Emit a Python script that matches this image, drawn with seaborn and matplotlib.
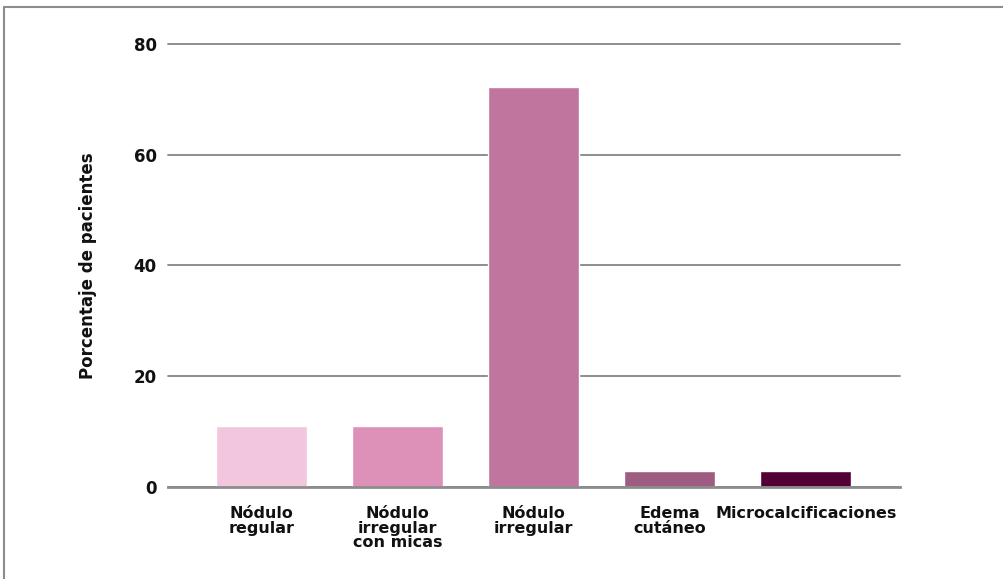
import matplotlib
matplotlib.use("Agg")
import matplotlib.pyplot as plt
import seaborn as sns
import pandas as pd
from matplotlib.lines import Line2D

categories = ["Nódulo\nregular", "Nódulo\nirregular\ncon micas", "Nódulo\nirregular",
              "Edema\ncutáneo", "Microcalcificaciones"]
values = [11.0, 11.0, 72.3, 2.9, 2.9]
colors = ["#F2C6DC", "#DE91B8", "#BF759E", "#9E5C82", "#520035"]
yticks = [0, 20, 40, 60, 80]
ylabel = "Porcentaje de pacientes"

sns.set_theme(style="white")
plt.rcParams["font.family"] = ["DejaVu Sans"]
plt.rcParams["text.color"] = "#111111"
plt.rcParams["xtick.color"] = "#111111"
plt.rcParams["ytick.color"] = "#111111"
plt.rcParams["axes.labelcolor"] = "#111111"

df = pd.DataFrame({"cat": categories, "val": values})

fig = plt.figure(figsize=(10.04, 5.79), dpi=100)
ax = fig.add_axes([0.167, 0.159, 0.729, 0.765])
sns.barplot(data=df, x="cat", y="val", hue="cat", palette=colors, legend=False,
            width=0.67, ax=ax, saturation=1)

ax.set_ylim(0, 80)
ax.set_xlim(-0.69, 4.69)
ax.set_yticks(yticks)
ax.set_yticklabels([str(t) for t in yticks], fontweight="bold", fontsize=12)
for lab in ax.get_xticklabels():
    lab.set_fontweight("bold")
    lab.set_fontsize(11.5)
    lab.set_linespacing(0.95)
ax.set_xlabel("")
ax.set_ylabel(ylabel, fontweight="bold", fontsize=12, labelpad=26)
ax.yaxis.grid(True, color="#858585", linewidth=1.3)
for gl in ax.get_ygridlines():
    gl.set_clip_on(False)
ax.set_axisbelow(True)
for s in ["top", "right", "left"]:
    ax.spines[s].set_visible(False)
ax.spines["bottom"].set_color("#8c8c8c")
ax.spines["bottom"].set_linewidth(2)
ax.tick_params(axis="both", length=0)
ax.tick_params(axis="x", pad=14)
ax.tick_params(axis="y", pad=8)

# figure frame
fig.add_artist(Line2D([0.004, 1.0], [0.988, 0.988], transform=fig.transFigure,
                      color="#8c8c8c", linewidth=1.5))
fig.add_artist(Line2D([0.004, 0.004], [0.0, 0.988], transform=fig.transFigure,
                      color="#8c8c8c", linewidth=1.5))

fig.savefig("out.png", dpi=100)
